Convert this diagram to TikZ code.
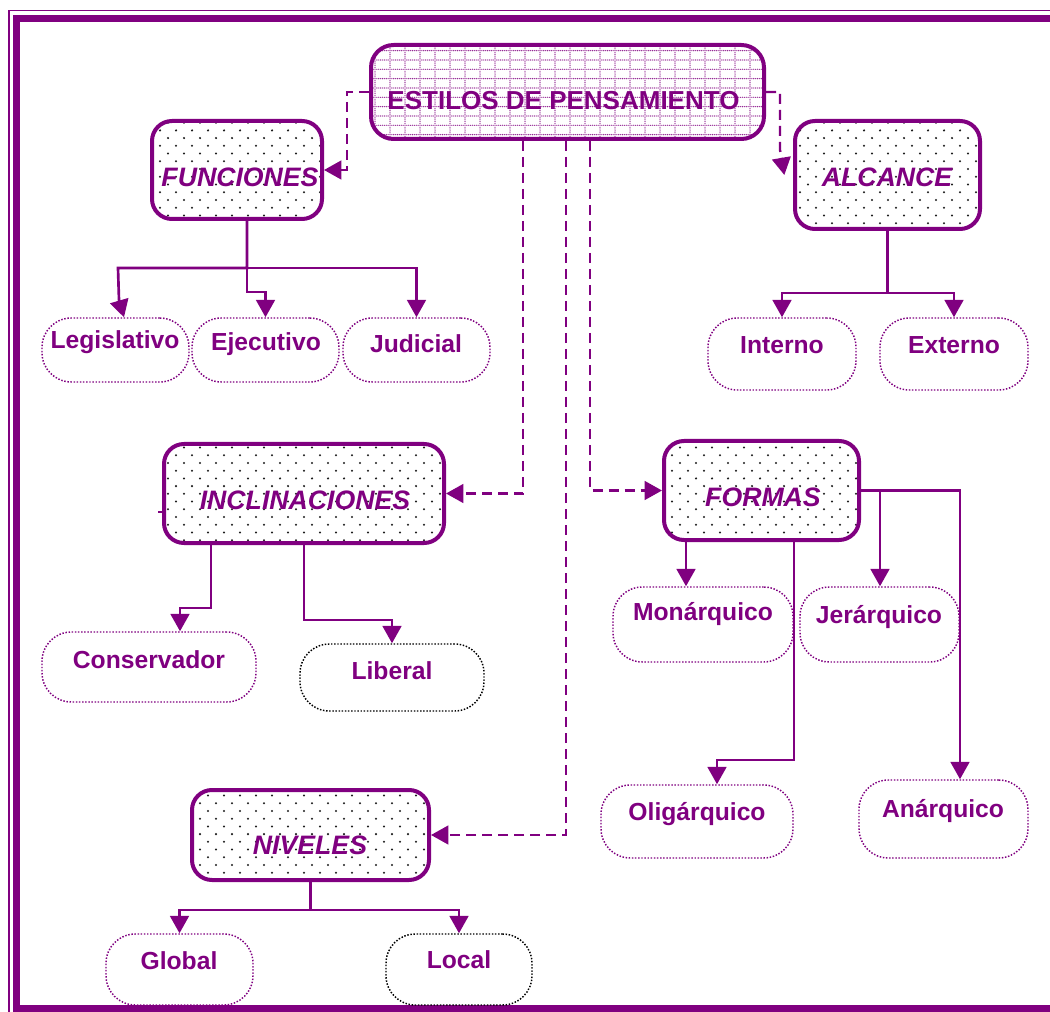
\documentclass[tikz,border=0pt]{standalone}
\usepackage{fontspec}
\setmainfont{Liberation Sans}
\usetikzlibrary{patterns,arrows.meta,calc}
\definecolor{pur}{RGB}{128,0,128}
\definecolor{dotc}{RGB}{30,30,30}
\pgfdeclarepatternformonly{spotdots}{\pgfqpoint{-1pt}{-1pt}}{\pgfqpoint{13pt}{13pt}}{\pgfqpoint{12pt}{11.6pt}}{%
  \pgfpathcircle{\pgfqpoint{0pt}{0pt}}{0.85pt}%
  \pgfpathcircle{\pgfqpoint{6pt}{5.8pt}}{0.85pt}%
  \pgfusepath{fill}}
\pgfdeclarepatternformonly{dotgrid}{\pgfqpoint{-0.6pt}{-0.6pt}}{\pgfqpoint{11.75pt}{7.5pt}}{\pgfqpoint{11.25pt}{7pt}}{%
  \foreach \i in {0,...,7}{\pgfpathcircle{\pgfpoint{\i*1.40625pt}{0pt}}{0.5pt}}%
  \foreach \j in {1,...,4}{\pgfpathcircle{\pgfpoint{0pt}{\j*1.4pt}}{0.5pt}}%
  \pgfusepath{fill}}
\begin{document}
\begin{tikzpicture}[x=0.75pt,y=-0.75pt,
  sz/.style 2 args={minimum width=#1*0.75pt, minimum height=#2*0.75pt, inner sep=0pt},
  head/.style={draw=pur, line width=3pt, rounded corners=15pt, pattern=spotdots, pattern color=dotc},
  mainbox/.style={draw=pur, line width=3pt, rounded corners=17pt, pattern=dotgrid, pattern color=pur!85},
  leaf/.style={draw=pur, line width=1.1pt, dash pattern=on 1.1pt off 1.25pt, rounded corners=22pt},
  leafk/.style={leaf, draw=black},
  htxt/.style={text=pur, inner sep=0pt, font=\fontsize{20}{22}\selectfont\bfseries\itshape},
  mtxt/.style={text=pur, inner sep=0pt, font=\fontsize{19.5}{22}\selectfont\bfseries},
  ltxt/.style={text=pur, inner sep=0pt, font=\fontsize{18.5}{20}\selectfont\bfseries},
  conn/.style={draw=pur, line width=2pt, -{Triangle[width=14pt,length=13pt]}},
  plain/.style={draw=pur, line width=2pt},
  dconn/.style={conn, line width=1.8pt, dash pattern=on 7.5pt off 4.5pt}
]
\clip (0,0) rectangle (1050,1012);
\fill[white] (0,0) rectangle (1050,1012);
% frame
\draw[pur, line width=0.9pt] (9,10.5) rectangle (1080,1040);
\draw[pur, line width=5.25pt] (16.5,18.5) rectangle (1080,1008.5);

% main boxes
\node[mainbox, sz={393}{94}] (est) at (567.5,92) {};
\node[mtxt] (est-t) at (563.5,101) {ESTILOS DE PENSAMIENTO};

\node[head, sz={170}{98}] (fun) at (237,170) {};
\node[htxt] (fun-t) at (240,177) {FUNCIONES};
\node[head, sz={185}{108}] (alc) at (887.5,175) {};
\node[htxt] (alc-t) at (887,177) {ALCANCE};
\node[head, sz={280}{99}] (inc) at (304,493.5) {};
\node[htxt] (inc-t) at (305,500) {INCLINACIONES};
\node[head, sz={195}{99}] (for) at (761.5,490.5) {};
\node[htxt] (for-t) at (763,497) {FORMAS};
\node[head, sz={237}{90}] (niv) at (310.5,835) {};
\node[htxt] (niv-t) at (310,845) {NIVELES};

% leaves
\node[leaf, sz={147}{64}] (leg) at (115.5,350) {};
\node[ltxt] (leg-t) at (115,342) {Legislativo};
\node[leaf, sz={147}{64}] (eje) at (265.5,350) {};
\node[ltxt] (eje-t) at (266,344) {Ejecutivo};
\node[leaf, sz={147}{64}] (jud) at (416.5,350) {};
\node[ltxt] (jud-t) at (416,344) {Judicial};
\node[leaf, sz={148}{72}] (int) at (782,354) {};
\node[ltxt] (int-t) at (782,345) {Interno};
\node[leaf, sz={148}{72}] (ext) at (954,354) {};
\node[ltxt] (ext-t) at (954,345) {Externo};
\node[leaf, sz={214}{70}] (con) at (149,667) {};
\node[ltxt] (con-t) at (149,660) {Conservador};
\node[leafk, sz={184}{67}] (lib) at (392,677.5) {};
\node[ltxt] (lib-t) at (392,671) {Liberal};
\node[leaf, sz={180}{75}] (mon) at (703,624.5) {};
\node[ltxt] (mon-t) at (703,614) {Monárquico};
\node[leaf, sz={159}{75}] (jer) at (879.5,624.5) {};
\node[ltxt] (jer-t) at (879,617) {Jerárquico};
\node[leaf, sz={192}{73}] (oli) at (697,821.5) {};
\node[ltxt] (oli-t) at (697,814) {Oligárquico};
\node[leaf, sz={169}{78}] (ana) at (943.5,819) {};
\node[ltxt] (ana-t) at (943,811) {Anárquico};
\node[leaf, sz={147}{71}] (glo) at (179.5,969.5) {};
\node[ltxt] (glo-t) at (179,961) {Global};
\node[leafk, sz={146}{71}] (loc) at (459,969.5) {};
\node[ltxt] (loc-t) at (459,960) {Local};

% dashed connectors from the main box
\draw[dconn] (est.west) -- (347,92) |- (fun.east);
\draw[dconn] (est.east) -- (780,92) -- (780,150) -- ([xshift=-6.5pt]alc.west);
\draw[dconn] (est.south -| 523,0) |- (inc.east);
\draw[dconn] (est.south -| 566,0) |- (niv.east);
\draw[dconn] (est.south -| 590,0) |- (for.west);

% funciones
\draw[conn] (fun.south -| 247,0) -- (247,268) -- (118,268) -- (119,300) -- (leg.north -| 124,0);
\draw[conn] (fun.south -| 247,0) -- (247,292) -| (eje.north);
\draw[conn] (fun.south -| 247,0) -- (247,268) -| (jud.north);

% alcance
\draw[conn] (alc.south) -- (887.5,293) -| (int.north);
\draw[conn] (alc.south) -- (887.5,293) -| (ext.north);

% inclinaciones
\draw[plain] (inc.west |- 0,512) -- (158,512);
\draw[conn] (inc.south -| 211,0) -- (211,608) -| (con.north -| 180,0);
\draw[conn] (inc.south -| 304,0) -- (304,620) -| (lib.north);

% formas
\draw[conn] (for.south -| 686,0) -- (mon.north -| 686,0);
\draw[conn] (for.east) -| (ana.north -| 960,0);
\draw[conn] (for.east -| 880,0) -- (jer.north -| 880,0);
\draw[conn] (for.south -| 794,0) -- (794,760) -| (oli.north -| 717,0);

% niveles
\draw[conn] (niv.south) -- (310.5,910) -| (glo.north);
\draw[conn] (niv.south) -- (310.5,910) -| (loc.north);
\end{tikzpicture}
\end{document}
